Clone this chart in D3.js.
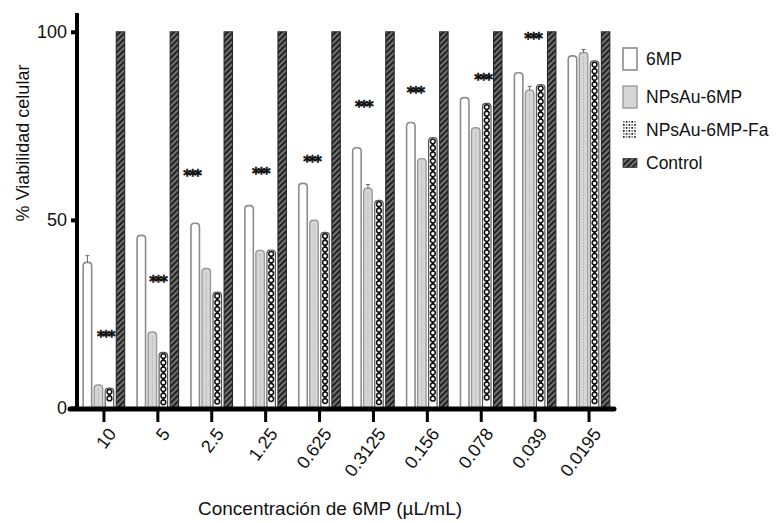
<!DOCTYPE html>
<html>
<head>
<meta charset="utf-8">
<script src="https://cdn.jsdelivr.net/npm/d3@7"></script>
<style>
  body { margin: 0; background: #fff; }
  text { font-family: "Liberation Sans", Arial, sans-serif; fill: #111; }
</style>
</head>
<body>
<div class="chart"></div>
<script>
// data
const concentrations = ["10", "5", "2.5", "1.25", "0.625", "0.3125", "0.156", "0.078", "0.039", "0.0195"];
const series = ["6MP", "NPsAu-6MP", "NPsAu-6MP-Fa", "Control"];
const val6MP     = [38.7, 45.9, 49.1, 53.8, 59.7, 69.2, 75.9, 82.5, 89.1, 93.6];
const valNPs     = [6.1, 20.2, 37.1, 41.9, 49.9, 58.4, 66.3, 74.5, 84.5, 94.5];
const valNPsFa   = [5.3, 14.8, 30.8, 42.0, 46.7, 55.2, 71.9, 81.0, 86.0, 92.3];
const valControl = [100, 100, 100, 100, 100, 100, 100, 100, 100, 100];
const err6MP     = [1.8, 0.4, 0.4, 0.4, 0.4, 0.4, 0.4, 0.4, 0.4, 0.4];
const errNPs     = [0.3, 0.3, 0.3, 0.5, 0.3, 1.0, 0.3, 0.3, 1.0, 0.8];
const errNPsFa   = [0.3, 0.3, 0.3, 0.3, 0.3, 0.3, 0.3, 0.3, 0.3, 0.3];
// significance marks (***): height and which sub-bar they sit over
const starVal = [19.6, 34.2, 62.6, 62.9, 66.3, 80.9, 84.4, 88.0, 98.9, null];
const starAt  = [1.6, 1.45, -0.35, 1.0, 0.75, 0.55, 0.35, 1.6, 1.25, null];
const yTicks = [0, 50, 100];

const W = 777, H = 523;
const svg = d3.select('.chart').append('svg').attr('width', W).attr('height', H);

const defs = svg.append('defs');
const hatch = defs.append('pattern').attr('id', 'hatch').attr('patternUnits', 'userSpaceOnUse')
    .attr('width', 4).attr('height', 4).attr('patternTransform', 'rotate(45)');
hatch.append('rect').attr('width', 4).attr('height', 4).attr('fill', '#7a7a7a');
hatch.append('rect').attr('width', 2.2).attr('height', 4).attr('fill', '#222');

const x = d3.scaleBand().domain(concentrations).range([77, 616]);
const xs = d3.scaleBand().domain(series).range([0, x.bandwidth()]).paddingInner(0.23).paddingOuter(0.56);
const y = d3.scaleLinear().domain([0, 105]).range([408, 13]);

const rows = concentrations.map((c, i) => ({
  c: c,
  vals: [val6MP[i], valNPs[i], valNPsFa[i], valControl[i]],
  errs: [err6MP[i], errNPs[i], errNPsFa[i], 0],
  star: starVal[i], starAt: starAt[i]
}));

function roundTop(x0, w, yTop, yBot, r) {
  return `M${x0},${yBot} L${x0},${yTop + r} Q${x0},${yTop} ${x0 + r},${yTop} L${x0 + w - r},${yTop} Q${x0 + w},${yTop} ${x0 + w},${yTop + r} L${x0 + w},${yBot} Z`;
}

const bw = xs.bandwidth();
const groups = svg.append('g').selectAll('g').data(rows).join('g')
    .attr('transform', d => `translate(${x(d.c)},0)`);

groups.each(function (d) {
  const g = d3.select(this);
  // 6MP - open bar
  let x0 = xs('6MP');
  g.append('path').attr('d', roundTop(x0, bw, y(d.vals[0]), y(0), 3.5))
    .attr('fill', '#fff').attr('stroke', '#8c8c8c').attr('stroke-width', 1.6);
  // NPsAu-6MP - light grey
  x0 = xs('NPsAu-6MP');
  g.append('path').attr('d', roundTop(x0, bw, y(d.vals[1]), y(0), 3.5))
    .attr('fill', '#d6d6d6').attr('stroke', '#9a9a9a').attr('stroke-width', 1.4);
  g.append('line').attr('x1', x0 + bw / 2).attr('x2', x0 + bw / 2)
    .attr('y1', y(d.vals[1]) + 4).attr('y2', y(0))
    .attr('stroke', '#b0b0b0').attr('stroke-width', 1).attr('stroke-dasharray', '1.5,1.5');
  // NPsAu-6MP-Fa - chain of rings
  x0 = xs('NPsAu-6MP-Fa');
  const top = y(d.vals[2]);
  g.append('path').attr('d', roundTop(x0, bw, top, y(0), 3.5))
    .attr('fill', '#fff').attr('stroke', '#555').attr('stroke-width', 1.2);
  const ringStep = 6.6;
  const nRing = Math.floor((y(0) - top - 2) / ringStep);
  g.append('g').selectAll('circle').data(d3.range(nRing)).join('circle')
    .attr('cx', x0 + bw / 2)
    .attr('cy', k => top + 3.8 + k * ringStep)
    .attr('r', 2.4).attr('fill', '#fff').attr('stroke', '#111').attr('stroke-width', 1.5);
  g.append('g').selectAll('rect').data(d3.range(nRing - 1)).join('rect')
    .attr('x', x0 + bw / 2 - 1.3).attr('width', 2.6).attr('height', 2.2)
    .attr('y', k => top + 3.8 + k * ringStep + ringStep / 2 - 1.1)
    .attr('fill', '#111');
  // Control - dark hatch
  x0 = xs('Control');
  g.append('rect').attr('x', x0).attr('width', bw)
    .attr('y', y(d.vals[3])).attr('height', y(0) - y(d.vals[3]))
    .attr('fill', 'url(#hatch)').attr('stroke', '#222').attr('stroke-width', 1);
  // error bars
  [0, 1, 2].forEach(k => {
    if (d.errs[k] < 0.6) return;
    const cx = xs(series[k]) + bw / 2, yt = y(d.vals[k] + d.errs[k]);
    g.append('line').attr('x1', cx).attr('x2', cx).attr('y1', yt).attr('y2', y(d.vals[k]))
      .attr('stroke', '#666').attr('stroke-width', 1);
    g.append('line').attr('x1', cx - 2).attr('x2', cx + 2).attr('y1', yt).attr('y2', yt)
      .attr('stroke', '#666').attr('stroke-width', 1);
  });
  // stars
  if (d.star != null) {
    const sx = xs.step() * (0.56 + d.starAt) + bw / 2;
    g.append('text').attr('x', sx).attr('y', y(d.star) + 8)
      .attr('text-anchor', 'middle').style('font-size', '15px').style('font-weight', 'bold')
      .style('letter-spacing', '-2.5px').style('font-family', 'DejaVu Sans')
      .style('stroke', '#111').style('stroke-width', 0.6)
      .text('***');
  }
});

// y axis
const yAxis = svg.append('g').attr('transform', 'translate(77,0)')
    .call(d3.axisLeft(y).tickValues(yTicks).tickSize(6).tickSizeOuter(0).tickPadding(4));
yAxis.select('.domain').remove();
yAxis.append('line').attr('x1', 0).attr('x2', 0).attr('y1', y(105)).attr('y2', y(0))
    .attr('stroke', '#000').attr('stroke-width', 4);
yAxis.selectAll('.tick line').attr('stroke', '#000').attr('stroke-width', 4);
yAxis.selectAll('.tick text').style('font-size', '18px').attr('fill', '#111');

// x axis
const xAxis = svg.append('g').attr('transform', 'translate(0,409)')
    .call(d3.axisBottom(x).tickSize(13).tickSizeOuter(0).tickPadding(0));
xAxis.select('.domain').remove();
xAxis.append('line').attr('x1', 70).attr('x2', 614).attr('stroke', '#000')
    .attr('stroke-width', 5).attr('stroke-linecap', 'round');
xAxis.selectAll('.tick line').attr('stroke', '#000').attr('stroke-width', 3);
xAxis.selectAll('.tick text')
    .attr('text-anchor', 'end').attr('dy', 0).attr('y', 0)
    .attr('transform', 'translate(13,25) rotate(-53)')
    .style('font-size', '18px').attr('fill', '#111');

// axis titles
svg.append('text').attr('transform', 'translate(29,143) rotate(-90)')
    .attr('text-anchor', 'middle').style('font-size', '18px').text('% Viabilidad celular');
svg.append('text').attr('x', 330).attr('y', 515)
    .attr('text-anchor', 'middle').style('font-size', '19px').text('Concentración de 6MP (µL/mL)');

// legend
const legend = svg.append('g').attr('transform', 'translate(623,0)');
const legY = [59, 97, 130, 163];
const legBox = [22, 22, 18, 9];
series.forEach((s, i) => {
  const h = legBox[i], ty = legY[i];
  const box = legend.append('rect').attr('x', 0).attr('y', ty - h / 2).attr('width', 14).attr('height', h);
  if (i === 0) box.attr('fill', '#fff').attr('stroke', '#8c8c8c').attr('stroke-width', 1.6);
  if (i === 1) box.attr('fill', '#d6d6d6').attr('stroke', '#9a9a9a').attr('stroke-width', 1.4);
  if (i === 2) {
    box.attr('fill', '#fff').attr('stroke', 'none');
    const cells = d3.cross(d3.range(5), d3.range(6));
    legend.append('g').selectAll('rect').data(cells).join('rect')
      .attr('x', c => c[0] * 2.8).attr('y', c => ty - h / 2 + c[1] * 3)
      .attr('width', 1.6).attr('height', 1.8)
      .attr('fill', c => (c[0] + c[1]) % 2 ? '#222' : '#888');
  }
  if (i === 3) box.attr('fill', 'url(#hatch)').attr('stroke', '#333').attr('stroke-width', 0.8);
  legend.append('text').attr('x', 23).attr('y', ty + 6).style('font-size', '17.5px').text(s);
});
</script>
</body>
</html>
